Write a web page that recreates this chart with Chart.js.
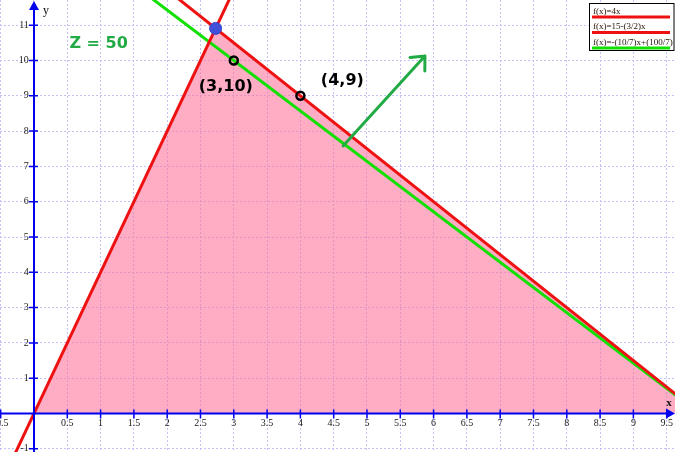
<!DOCTYPE html>
<html><head><meta charset="utf-8">
<script src="https://cdn.jsdelivr.net/npm/chart.js@4.4.1/dist/chart.umd.min.js"></script>
<style>html,body{margin:0;padding:0;background:#fff;overflow:hidden}#wrap{width:675px;height:452px;position:relative}</style>
</head><body><div id="wrap"><canvas id="c" width="675" height="452"></canvas></div>
<script>
// ---- data ----
const xTickValues = [-0.5,0,0.5,1,1.5,2,2.5,3,3.5,4,4.5,5,5.5,6,6.5,7,7.5,8,8.5,9,9.5];
const xTickLabels = ['-0.5','','0.5','1','1.5','2','2.5','3','3.5','4','4.5','5','5.5','6','6.5','7','7.5','8','8.5','9','9.5'];
const yTickValues = [-1,0,1,2,3,4,5,6,7,8,9,10,11];
const yTickLabels = ['-1','','1','2','3','4','5','6','7','8','9','10','11'];

const feasibleX = [0, 2.727, 10];
const feasibleY = [0, 10.909, 0];
const line1X = [-0.5, 3];      // f(x)=4x
const line1Y = [-2, 12];
const line2X = [1, 10];        // f(x)=15-(3/2)x
const line2Y = [13.5, 0];
const isoX = [0, 10];          // f(x)=-(10/7)x+(100/7)
const isoY = [14.286, 0];
const markX = [3, 4];
const markY = [10, 9];
const markLabels = ['(3,10)', '(4,9)'];
const markLabelX = [2.88, 4.63];
const markLabelY = [9.26, 9.43];
const vertexX = [2.727];
const vertexY = [10.909];
const arrowX = [4.64, 5.87];
const arrowY = [7.58, 10.13];
const zText = 'Z = 50';
const zTextX = 0.97, zTextY = 10.47;
const legendLabels = ['f(x)=4x', 'f(x)=15-(3/2)x', 'f(x)=-(10/7)x+(100/7)'];

const RED = '#ee1111', GREEN = '#11e000', DARKGREEN = '#22aa44', AXIS = '#0000ee';
const pts = (xs, ys) => xs.map((v, i) => ({x: v, y: ys[i]}));

const overlay = {
  id: 'overlay',
  afterDatasetsDraw(chart) {
    const {ctx, scales: {x, y}, chartArea: a} = chart;
    const x0 = x.getPixelForValue(0), y0 = y.getPixelForValue(0);
    ctx.save();
    // axes
    ctx.strokeStyle = AXIS; ctx.fillStyle = AXIS; ctx.lineWidth = 2;
    ctx.beginPath();
    ctx.moveTo(a.left, y0); ctx.lineTo(a.right - 6, y0);
    ctx.moveTo(x0, a.bottom); ctx.lineTo(x0, a.top + 6);
    ctx.stroke();
    ctx.beginPath();
    ctx.moveTo(a.right, y0); ctx.lineTo(a.right - 9, y0 - 5); ctx.lineTo(a.right - 9, y0 + 5); ctx.closePath(); ctx.fill();
    ctx.beginPath();
    ctx.moveTo(x0, a.top + 1); ctx.lineTo(x0 - 5, a.top + 10); ctx.lineTo(x0 + 5, a.top + 10); ctx.closePath(); ctx.fill();
    // tick marks
    ctx.lineWidth = 1.5;
    ctx.beginPath();
    xTickValues.forEach(v => { if (v === 0) return; const p = x.getPixelForValue(v); ctx.moveTo(p, y0 - 4); ctx.lineTo(p, y0 + 5); });
    yTickValues.forEach(v => { if (v === 0) return; const p = y.getPixelForValue(v); ctx.moveTo(x0 - 5, p); ctx.lineTo(x0 + 4, p); });
    ctx.stroke();
    // axis names
    ctx.fillStyle = '#111';
    ctx.font = 'bold 11px "Liberation Serif"';
    ctx.textAlign = 'center'; ctx.textBaseline = 'middle';
    ctx.fillText('x', a.right - 6, y0 - 10);
    ctx.font = '12px "Liberation Serif"';
    ctx.fillText('y', x0 + 12, a.top + 11);
    // gradient arrow
    const ax0 = x.getPixelForValue(arrowX[0]), ay0 = y.getPixelForValue(arrowY[0]);
    const ax1 = x.getPixelForValue(arrowX[1]), ay1 = y.getPixelForValue(arrowY[1]);
    ctx.strokeStyle = DARKGREEN; ctx.lineWidth = 3; ctx.lineCap = 'round'; ctx.lineJoin = 'round';
    ctx.beginPath(); ctx.moveTo(ax0, ay0); ctx.lineTo(ax1, ay1);
    const ang = Math.atan2(ay0 - ay1, ax0 - ax1), L = 15, sp = 42 * Math.PI / 180;
    ctx.moveTo(ax1 + L * Math.cos(ang - sp), ay1 + L * Math.sin(ang - sp));
    ctx.lineTo(ax1, ay1);
    ctx.lineTo(ax1 + L * Math.cos(ang + sp), ay1 + L * Math.sin(ang + sp));
    ctx.stroke();
    // text labels
    ctx.font = 'bold 16px "DejaVu Sans"';
    ctx.fillStyle = '#000';
    markLabels.forEach((t, i) => ctx.fillText(t, x.getPixelForValue(markLabelX[i]), y.getPixelForValue(markLabelY[i])));
    ctx.fillStyle = DARKGREEN;
    ctx.fillText(zText, x.getPixelForValue(zTextX), y.getPixelForValue(zTextY));
    ctx.restore();
  },
  afterDraw(chart) {
    const {ctx, chartArea: a} = chart;
    const colors = [RED, RED, GREEN];
    const lx = a.right - 86, ly = a.top + 3, w = 86, h = 47;
    ctx.save();
    ctx.fillStyle = '#fff'; ctx.fillRect(lx, ly, w, h);
    ctx.strokeStyle = '#000'; ctx.lineWidth = 1;
    ctx.strokeRect(lx + 0.5, ly + 0.5, w - 1.5, h);
    ctx.font = '9px "Liberation Serif"'; ctx.textAlign = 'left'; ctx.textBaseline = 'alphabetic';
    legendLabels.forEach((t, i) => {
      const by = ly + 14 + i * 15.5;
      ctx.fillStyle = '#221100';
      ctx.fillText(t, lx + 4, by - 3.5);
      ctx.fillStyle = colors[i];
      ctx.fillRect(lx + 3, by - 1.5, w - 8, 3);
    });
    ctx.restore();
  }
};

const noPad = s => { s.paddingLeft = 0; s.paddingRight = 0; s.paddingTop = 0; s.paddingBottom = 0; };

new Chart(document.getElementById('c'), {
  type: 'line',
  data: {
    datasets: [
      {label: 'vertex', data: pts(vertexX, vertexY), showLine: false, pointRadius: 6, pointBackgroundColor: '#4050d8', pointBorderColor: '#3444c8', pointBorderWidth: 1, order: 1},
      {label: 'points', data: pts(markX, markY), showLine: false, pointRadius: 4, pointBackgroundColor: 'rgba(0,0,0,0)', pointBorderColor: '#000', pointBorderWidth: 2.5, order: 2},
      {label: legendLabels[0], data: pts(line1X, line1Y), borderColor: RED, borderWidth: 3, pointRadius: 0, fill: false, order: 3},
      {label: legendLabels[1], data: pts(line2X, line2Y), borderColor: RED, borderWidth: 3, pointRadius: 0, fill: false, order: 3},
      {label: legendLabels[2], data: pts(isoX, isoY), borderColor: GREEN, borderWidth: 3, pointRadius: 0, fill: false, order: 4},
      {label: 'region', data: pts(feasibleX, feasibleY), borderWidth: 0, borderColor: 'rgba(0,0,0,0)', backgroundColor: 'rgba(255,105,150,0.55)', pointRadius: 0, fill: 'origin', order: 5}
    ]
  },
  options: {
    responsive: false, animation: false, events: [],
    layout: {padding: 0, autoPadding: false},
    plugins: {legend: {display: false}, tooltip: {enabled: false}},
    elements: {line: {tension: 0}},
    scales: {
      x: {
        type: 'linear', min: -0.5105, max: 9.625, position: {y: 0},
        afterFit: noPad,
        afterBuildTicks: s => { s.ticks = xTickValues.map(v => ({value: v})); },
        grid: {color: '#c2c2f6', lineWidth: 1, drawTicks: false},
        border: {display: false, dash: [2, 2]},
        ticks: {autoSkip: false, maxRotation: 0, padding: 4, color: '#1a1a1a', font: {family: 'Liberation Serif', size: 10}, callback: (v, i) => xTickLabels[i]}
      },
      y: {
        type: 'linear', min: -1.0906, max: 11.714, position: {x: -0.078},
        afterFit: noPad,
        afterBuildTicks: s => { s.ticks = yTickValues.map(v => ({value: v})); },
        grid: {color: '#c2c2f6', lineWidth: 1, drawTicks: false},
        border: {display: false, dash: [2, 2]},
        ticks: {autoSkip: false, padding: 5, color: '#1a1a1a', font: {family: 'Liberation Serif', size: 10}, callback: (v, i) => yTickLabels[i]}
      }
    }
  },
  plugins: [overlay]
});
</script></body></html>
